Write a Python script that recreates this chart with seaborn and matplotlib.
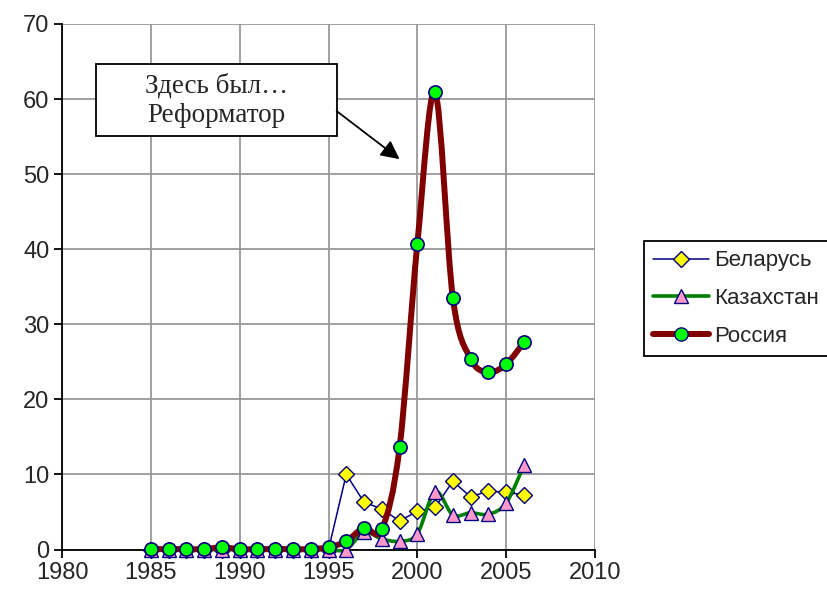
import matplotlib
matplotlib.use("Agg")
import matplotlib.pyplot as plt
import numpy as np
import pandas as pd
import seaborn as sns
from matplotlib.lines import Line2D
from matplotlib.patches import PathPatch, Rectangle
from matplotlib.path import Path

years = list(range(1985, 2007))
belarus = [0, 0, 0, 0, 0, 0, 0, 0, 0, 0, 0,
           10.0, 6.3, 5.4, 3.8, 5.1, 5.6, 9.1, 7.0, 7.8, 7.6, 7.3]
kazakhstan = [0, 0, 0, 0, 0, 0, 0, 0, 0, 0, 0,
              0.0, 2.3, 1.4, 1.1, 2.1, 7.7, 4.6, 4.9, 4.7, 6.2, 11.2]
russia = [0.05, 0.05, 0.05, 0.05, 0.3, 0.05, 0.05, 0.05, 0.05, 0.05, 0.3,
          1.1, 2.9, 2.7, 13.6, 40.7, 60.9, 33.5, 25.4, 23.6, 24.7, 27.6]

x_ticks = list(range(1980, 2011, 5))
y_ticks = list(range(0, 71, 10))

sns.set_style("ticks")
plt.rcParams["font.family"] = ["Liberation Sans", "DejaVu Sans"]

df = pd.DataFrame({"year": years, "Беларусь": belarus,
                   "Казахстан": kazakhstan, "Россия": russia})


def smooth_path(xs, ys):
    # Excel-style smoothed line: cubic Bezier through every point
    pts = np.column_stack([xs, ys]).astype(float)
    n = len(pts)
    verts = [pts[0]]
    codes = [Path.MOVETO]
    for i in range(n - 1):
        p0 = pts[max(i - 1, 0)]
        p1 = pts[i]
        p2 = pts[i + 1]
        p3 = pts[min(i + 2, n - 1)]
        verts += [p1 + (p2 - p0) / 6, p2 - (p3 - p1) / 6, p2]
        codes += [Path.CURVE4] * 3
    return Path(verts, codes)


fig = plt.figure(figsize=(8.27, 5.94), dpi=100)
ax = fig.add_axes([62 / 827, 1 - 549.5 / 594, 533 / 827, 525.5 / 594])

navy = "#000080"

# Беларусь: straight line
sns.lineplot(data=df, x="year", y="Беларусь", ax=ax, color=navy, lw=1.1,
             marker="D", markersize=8, markerfacecolor="#FFFF00",
             markeredgecolor=navy, markeredgewidth=1.0, zorder=3,
             clip_on=False)

# Казахстан: smoothed
ax.add_patch(PathPatch(smooth_path(df["year"], df["Казахстан"]), fill=False,
                       edgecolor="#008000", lw=2.6, zorder=4, clip_on=False))
ax.plot(df["year"], df["Казахстан"], ls="none", marker="^", markersize=10,
        markerfacecolor="#FF99CC", markeredgecolor=navy, markeredgewidth=1.0,
        zorder=5, clip_on=False)

# Россия: smoothed
ax.add_patch(PathPatch(smooth_path(df["year"], df["Россия"]), fill=False,
                       edgecolor="#800000", lw=4.3, zorder=6, clip_on=False,
                       capstyle="round", joinstyle="round"))
ax.plot(df["year"], df["Россия"], ls="none", marker="o", markersize=9.5,
        markerfacecolor="#00FF00", markeredgecolor=navy, markeredgewidth=1.2,
        zorder=7, clip_on=False)

ax.set_xlim(1980, 2010)
ax.set_ylim(0, 70)
ax.set_xticks(x_ticks)
ax.set_yticks(y_ticks)
ax.set_xlabel("")
ax.set_ylabel("")
ax.grid(True, color="#999999", lw=1.3, zorder=0)
ax.set_axisbelow(True)
for side in ["top", "right"]:
    ax.spines[side].set_visible(False)
for side in ["left", "bottom"]:
    ax.spines[side].set_color("black")
    ax.spines[side].set_linewidth(1.3)
    ax.spines[side].set_zorder(2.5)
ax.tick_params(axis="both", direction="out", length=6, width=1.3,
               color="black", labelsize=17, pad=3)

# annotation box
ax.add_patch(Rectangle((1981.9, 55.05), 13.56, 9.6, fill=True,
                       facecolor="white", edgecolor="black", lw=1.3,
                       zorder=8, clip_on=False))
ax.text(1988.68, 59.85, "Здесь был…\nРеформатор", ha="center", va="center",
        fontsize=19.5, family=["Liberation Serif", "DejaVu Serif"],
        linespacing=1.25, zorder=9)
ax.annotate("", xy=(1999.0, 52.0), xytext=(1995.46, 58.4),
            arrowprops=dict(arrowstyle="-|>", color="black", lw=1.3,
                            mutation_scale=28, shrinkA=0, shrinkB=0),
            zorder=9)

handles = [
    Line2D([], [], color=navy, lw=1.1, marker="D", markersize=8,
           markerfacecolor="#FFFF00", markeredgecolor=navy),
    Line2D([], [], color="#008000", lw=2.6, marker="^", markersize=10,
           markerfacecolor="#FF99CC", markeredgecolor=navy),
    Line2D([], [], color="#800000", lw=4.3, marker="o", markersize=9.5,
           markerfacecolor="#00FF00", markeredgecolor=navy),
]
leg = fig.legend(handles, ["Беларусь", "Казахстан", "Россия"],
                 loc="upper left", bbox_to_anchor=(644 / 827, 1 - 241 / 594),
                 fontsize=16, frameon=True, fancybox=False, framealpha=1,
                 edgecolor="black", handlelength=2.5, handletextpad=0.22,
                 labelspacing=0.76, borderpad=0.42, borderaxespad=0)
leg.get_frame().set_linewidth(1.3)

fig.savefig("out.png", dpi=100)
